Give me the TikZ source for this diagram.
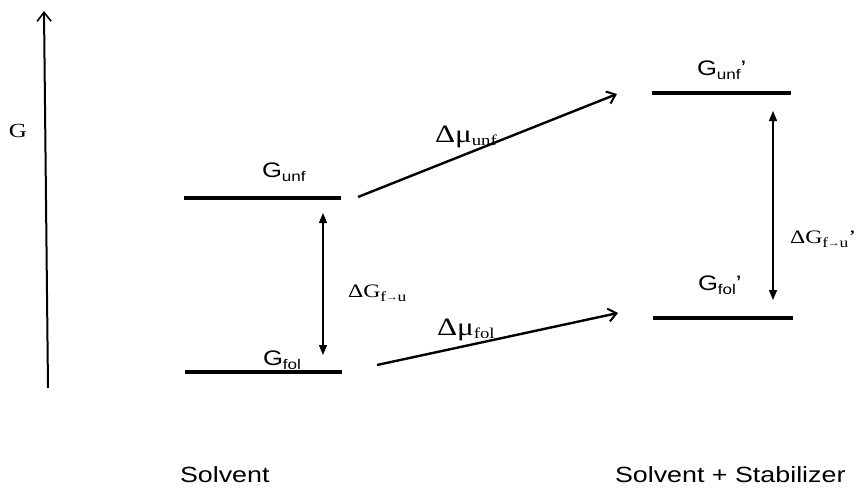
\documentclass[tikz,border=0pt]{standalone}
\usepackage{fontspec}
\usetikzlibrary{arrows.meta}
\setmainfont{Liberation Serif}[FakeStretch=1.25]
\newfontfamily\arialw{Liberation Sans}[FakeStretch=1.22]
\newcommand{\lowsub}[3]{\raisebox{-#1pt}{\fontsize{#2}{#2}\selectfont #3}}
\newcommand{\futo}{f\kern-0.6pt{\fontsize{10}{10}\selectfont\raisebox{0.5pt}{→}}\kern-0.6pt u}
\begin{document}
\begin{tikzpicture}[x=1pt,y=-1pt,
  level/.style={fill=black, minimum height=4pt, inner sep=0pt, outer sep=0pt},
  lbl/.style={anchor=base west, inner sep=0pt, outer sep=0pt},
  axisarrow/.style={line width=2pt, -{Straight Barb[length=9pt,width=14pt,line width=1.6pt]}},
  shiftarrow/.style={line width=2.4pt, -{Straight Barb[length=8pt,width=13pt,line width=2pt]}},
  gaparrow/.style={line width=1.2pt, {Triangle[length=10pt,width=8pt]}-{Triangle[length=10pt,width=8pt]}}]
\useasboundingbox (0,0) rectangle (865,488);

% axis
\coordinate (ax0) at (48,388);
\coordinate (ax1) at (44,11);
\draw[axisarrow] (ax0) -- (ax1);
\node[lbl] (Glab) at (9,137) {\fontsize{20}{20}\selectfont G};

% levels
\node[level, minimum width=157pt] (unf) at (262.5,198) {};
\node[level, minimum width=157pt] (fol) at (263.5,372) {};
\node[level, minimum width=139pt] (unfp) at (721.5,93) {};
\node[level, minimum width=140pt] (folp) at (723,318) {};

% level labels
\node[lbl] (unflab) at (262,177) {\arialw\fontsize{21}{21}\selectfont G\lowsub{4}{14}{unf}};
\node[lbl] (follab) at (263,365) {\arialw\fontsize{21}{21}\selectfont G\lowsub{4}{14}{fol}};
\node[lbl] (unfplab) at (697,75) {\arialw\fontsize{21}{21}\selectfont G\lowsub{4}{14}{unf}’};
\node[lbl] (folplab) at (698,290) {\arialw\fontsize{21}{21}\selectfont G\lowsub{4}{14}{fol}’};

% gap arrows
\coordinate (g1t) at (323,213);
\coordinate (g1b) at (323,355);
\coordinate (g2t) at (773,111);
\coordinate (g2b) at (773,300);
\draw[gaparrow] (g1t) -- (g1b);
\draw[gaparrow] (g2t) -- (g2b);
\node[lbl] (dG1) at (348,297) {\fontsize{19}{19}\selectfont ΔG\lowsub{4}{14}{\futo}};
\node[lbl] (dG2) at (790,243) {\fontsize{19}{19}\selectfont ΔG\lowsub{4}{14}{\futo}’};

% transfer arrows
\coordinate (m1s) at (358,197);
\coordinate (m1e) at (617,94);
\coordinate (m2s) at (377,365);
\coordinate (m2e) at (618,313);
\draw[shiftarrow] (m1s) -- (m1e);
\draw[shiftarrow] (m2s) -- (m2e);
\node[lbl] (mu1) at (435,142) {\fontsize{25}{25}\selectfont Δμ\lowsub{3}{15}{unf}};
\node[lbl] (mu2) at (437,335) {\fontsize{25}{25}\selectfont Δμ\lowsub{3}{15}{fol}};

% captions
\node[lbl] (solv) at (180,482) {\arialw\fontsize{22}{22}\selectfont Solvent};
\node[lbl] (solvst) at (615,482) {\arialw\fontsize{22}{22}\selectfont Solvent + Stabilizer};
\end{tikzpicture}
\end{document}
